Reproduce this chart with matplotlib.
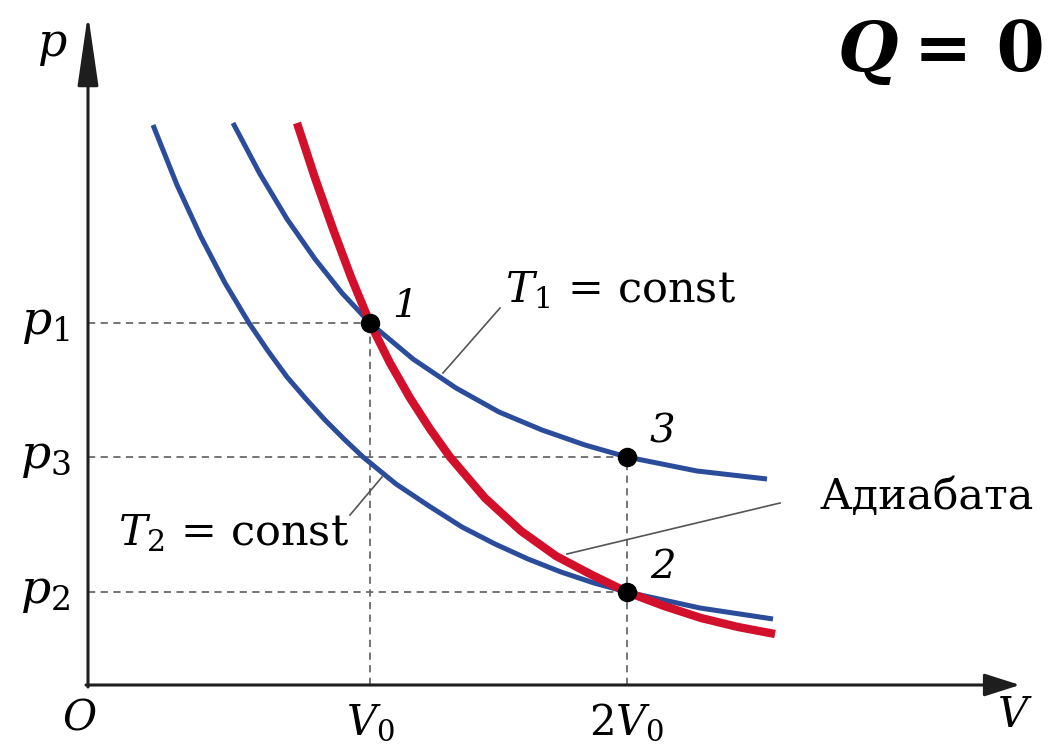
import matplotlib
matplotlib.use("Agg")
import matplotlib.pyplot as plt

plt.rcParams['font.family'] = ['DejaVu Serif']
plt.rcParams['mathtext.fontset'] = 'dejavuserif'

# schematic p-V diagram, units: V0 = 2.82, 2V0 = 5.39 (axis origin at 0, 0)
V0, V2 = 2.82, 5.39
p1, p3, p2 = 3.62, 2.28, 0.93

# isotherm T1 (through 1 and 3)
t1_v = [1.45, 1.72, 1.99, 2.27, 2.54, 2.82, 3.25, 3.68, 4.11, 4.54, 4.97, 5.39, 6.09, 6.79]
t1_p = [5.62, 5.11, 4.66, 4.26, 3.92, 3.62, 3.26, 2.97, 2.73, 2.55, 2.40, 2.28, 2.14, 2.06]

# isotherm T2 (through 2)
t2_v = [0.65, 0.89, 1.13, 1.37, 1.61, 1.80, 1.99, 2.18, 2.37, 2.56, 2.75,
        3.08, 3.41, 3.74, 4.07, 4.40, 4.73, 5.06, 5.39, 6.12, 6.85]
t2_p = [5.60, 5.00, 4.48, 4.02, 3.62, 3.34, 3.08, 2.86, 2.65, 2.46, 2.28,
        2.01, 1.79, 1.58, 1.41, 1.26, 1.13, 1.02, 0.93, 0.77, 0.66]

# adiabat (through 1 and 2)
ad_v = [2.09, 2.27, 2.45, 2.63, 2.82, 3.02, 3.22, 3.42, 3.62,
        3.97, 4.33, 4.68, 5.04, 5.39, 5.76, 6.13, 6.50, 6.87]
ad_p = [5.62, 5.07, 4.56, 4.08, 3.62, 3.22, 2.87, 2.56, 2.28,
        1.87, 1.54, 1.29, 1.10, 0.93, 0.79, 0.67, 0.58, 0.51]

pts_v = [V0, V2, V2]
pts_p = [p1, p3, p2]
pts_lab = ['1', '3', '2']

BLUE = '#2b4c9b'
RED = '#d2102c'
DASH = '#6a6a6a'
INK = '#1e1e1e'

fig = plt.figure(figsize=(10.51, 7.51), dpi=100)
ax = fig.add_axes([0, 0, 1, 1])
ax.set_xlim(-0.88, 9.63)
ax.set_ylim(-0.66, 6.85)
ax.axis('off')

# dashed guide lines
dk = dict(color=DASH, lw=1.3, ls=(0, (4, 3)), zorder=1)
ax.plot([0, V0], [p1, p1], **dk)
ax.plot([0, V2], [p3, p3], **dk)
ax.plot([0, V2], [p2, p2], **dk)
ax.plot([V0, V0], [0, p1], **dk)
ax.plot([V2, V2], [0, p3], **dk)

# axes with arrows
ax.annotate('', xy=(0, 6.71), xytext=(0, -0.02),
            arrowprops=dict(arrowstyle='-|>,head_length=2.2,head_width=0.32',
                            color=INK, lw=2.2, mutation_scale=20, shrinkA=0, shrinkB=0))
ax.annotate('', xy=(9.32, 0), xytext=(-0.02, 0),
            arrowprops=dict(arrowstyle='-|>,head_length=1.1,head_width=0.35',
                            color=INK, lw=2.2, mutation_scale=20, shrinkA=0, shrinkB=0))

# curves
ax.plot(t2_v, t2_p, color=BLUE, lw=3.6, solid_capstyle='butt',
        solid_joinstyle='round', zorder=3)
ax.plot(t1_v, t1_p, color=BLUE, lw=3.6, solid_capstyle='butt',
        solid_joinstyle='round', zorder=3)
ax.plot(ad_v, ad_p, color=RED, lw=6, solid_capstyle='butt',
        solid_joinstyle='round', zorder=4)

# state points
ax.plot(pts_v, pts_p, 'o', color='black', ms=13, zorder=6)
lab_off = [(0.35, 0.16), (0.35, 0.25), (0.36, 0.24)]
for v, p, t, (dx, dy) in zip(pts_v, pts_p, pts_lab, lab_off):
    ax.text(v + dx, p + dy, t, fontsize=29, style='italic', ha='center', va='center')

# leader lines
lk = dict(color='#555555', lw=1.2, zorder=2)
ax.plot([4.12, 3.55], [3.77, 3.12], **lk)
ax.plot([2.94, 2.62], [2.08, 1.70], **lk)
ax.plot([6.92, 4.79], [1.82, 1.31], **lk)

# labels
fs = 31
ax.text(4.17, 3.95, r'$T_1$ = const', fontsize=fs, ha='left', va='center')
ax.text(0.30, 1.52, r'$T_2$ = const', fontsize=fs, ha='left', va='center')
ax.text(7.32, 1.88, 'Адиабата', fontsize=fs, ha='left', va='center')

ax.text(-0.36, 6.40, r'$p$', fontsize=33, ha='center', va='center')
for p, s in zip([p1, p3, p2], [r'$p_1$', r'$p_3$', r'$p_2$']):
    ax.text(-0.43, p, s, fontsize=34, ha='center', va='center')

ax.text(-0.08, -0.33, r'$O$', fontsize=30, ha='center', va='center')
ax.text(V0, -0.37, r'$V_0$', fontsize=30, ha='center', va='center')
ax.text(V2, -0.37, r'$2V_0$', fontsize=30, ha='center', va='center')
ax.text(9.27, -0.30, r'$V$', fontsize=30, ha='center', va='center')

ax.text(8.10, 6.33, 'Q', fontsize=50, style='italic', weight='bold', ha='right', va='center')
ax.text(9.57, 6.33, '= 0', fontsize=50, weight='bold', ha='right', va='center')

fig.savefig('out.png', dpi=100, facecolor='white')
